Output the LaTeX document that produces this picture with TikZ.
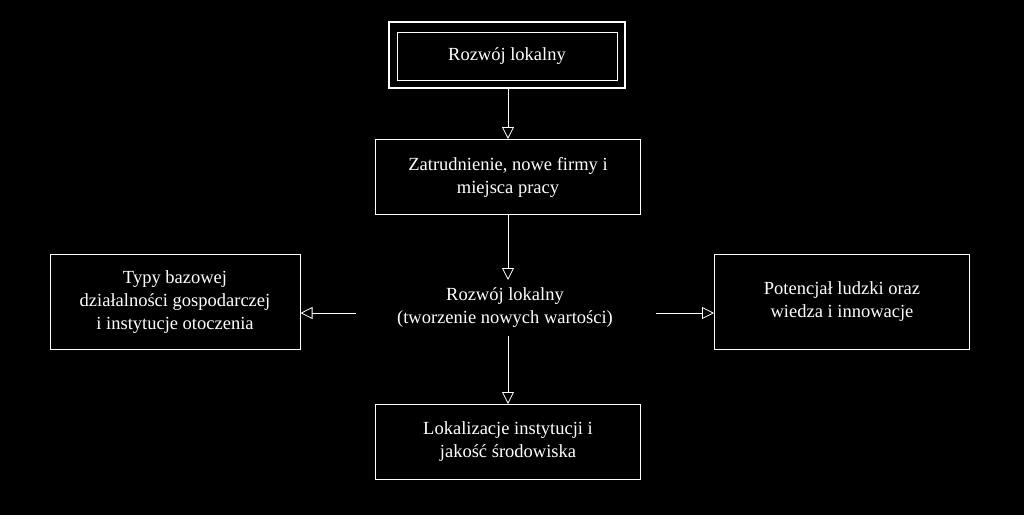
\documentclass[tikz,border=0pt]{standalone}
\usepackage{fontspec}
\setmainfont{Liberation Serif}
\usetikzlibrary{arrows.meta}
\begin{document}
\begin{tikzpicture}[x=1pt,y=-1pt,
  bx/.style={draw=white,line width=1pt,text=white,align=center,font=\fontsize{18.5}{23}\selectfont,inner sep=0pt},
  tx/.style={text=white,align=center,font=\fontsize{18.5}{23}\selectfont},
  ar/.style={draw=white,line width=0.8pt,-{Triangle[open,length=12pt,width=12pt]}}]
\fill[black] (0,0) rectangle (1024,515);
\useasboundingbox (0,0) rectangle (1024,515);
\node[bx,line width=1.6pt,minimum width=236pt,minimum height=66pt] (top) at (507,55) {};
\node[bx,minimum width=220pt,minimum height=48pt] (topin) at (507,56) {Rozwój lokalny};
\node[bx,minimum width=265pt,minimum height=75pt] (zat) at (508,177) {Zatrudnienie, nowe firmy i\\miejsca pracy};
\node[tx,minimum width=300pt,minimum height=55pt,inner sep=0pt] (c) at (505,308) {Rozwój lokalny\\(tworzenie nowych wartości)};
\node[bx,minimum width=250pt,minimum height=95pt] (l) at (175,302) {Typy bazowej\\działalności gospodarczej\\i instytucje otoczenia};
\node[bx,minimum width=255pt,minimum height=95pt] (r) at (842,302) {Potencjał ludzki oraz\\wiedza i innowacje};
\node[bx,minimum width=265pt,minimum height=75pt] (b) at (508,442) {Lokalizacje instytucji i\\jakość środowiska};
\draw[ar] (top.south -| 508,0) -- (zat.north -| 508,0);
\draw[ar] (zat.south -| 508,0) -- (508,280);
\draw[ar] (356,313) -- (l.east |- 0,313);
\draw[ar] (656,313) -- (r.west |- 0,313);
\draw[ar] (508,336) -- (b.north -| 508,0);
\end{tikzpicture}
\end{document}
